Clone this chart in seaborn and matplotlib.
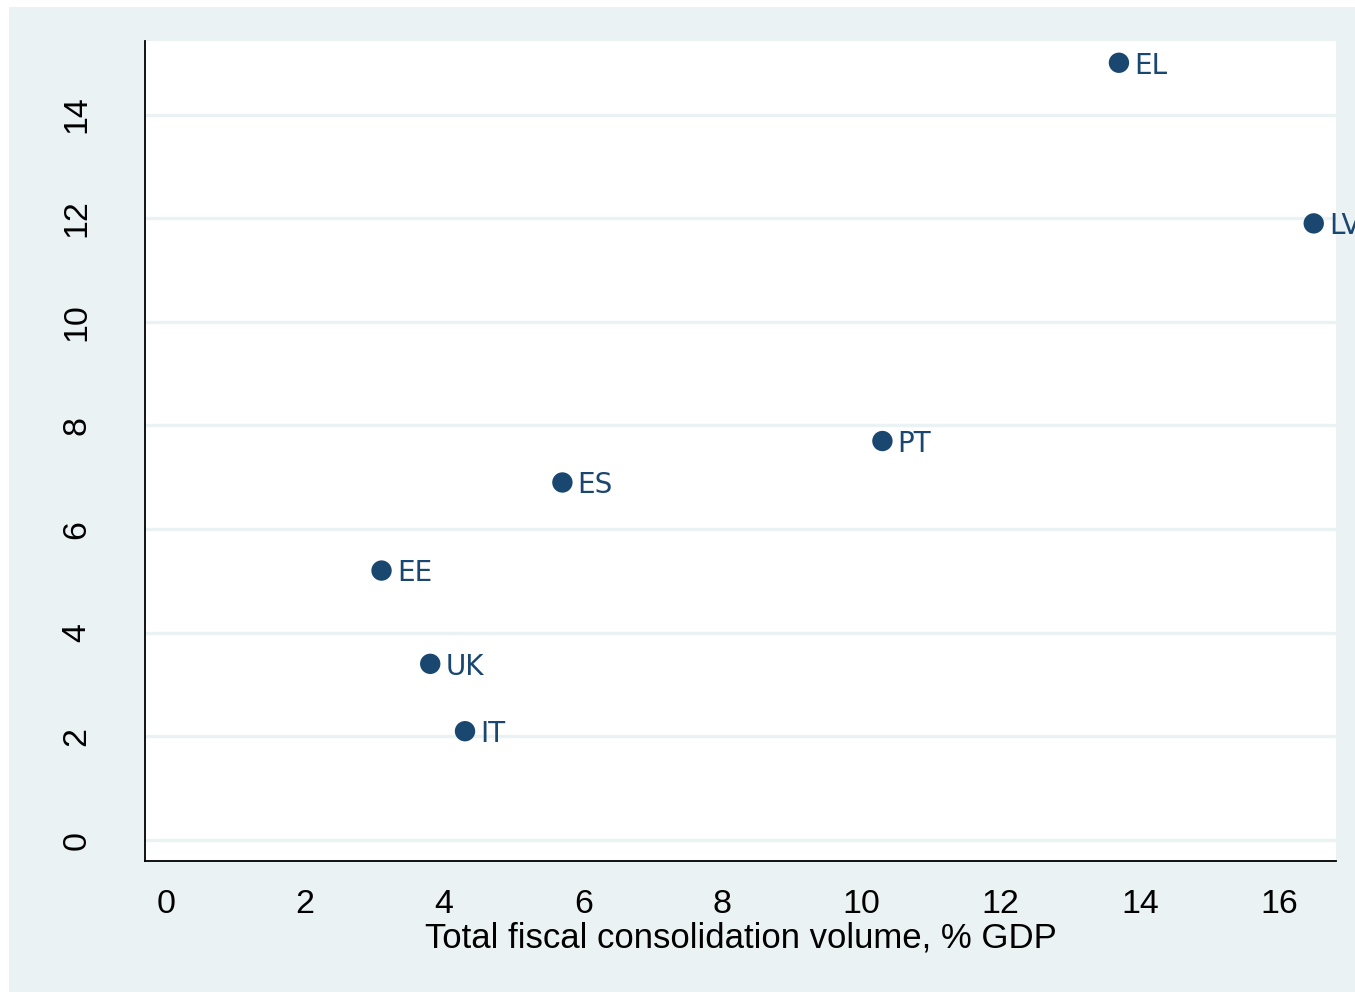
import matplotlib
matplotlib.use("Agg")
import matplotlib.pyplot as plt
import seaborn as sns
import pandas as pd
from matplotlib.patches import Rectangle

countries = ["EL", "LV", "PT", "ES", "EE", "UK", "IT"]
consolidation = [13.7, 16.5, 10.3, 5.7, 3.1, 3.8, 4.3]
outcome = [15.0, 11.9, 7.7, 6.9, 5.2, 3.4, 2.1]
x_ticks = [0, 2, 4, 6, 8, 10, 12, 14, 16]
y_ticks = [0, 2, 4, 6, 8, 10, 12, 14]
x_label = "Total fiscal consolidation volume, % GDP"

df = pd.DataFrame({"country": countries, "x": consolidation, "y": outcome})

sns.set_style("white")
plt.rcParams['font.family'] = ['Liberation Sans', 'DejaVu Sans']

navy = "#1a476f"
bg = "#eaf2f3"

fig = plt.figure(figsize=(13.55, 9.92), dpi=100)
fig.patch.set_facecolor("white")
fig.patches.append(Rectangle((9 / 1355, 0), 1 - 9 / 1355, 1 - 7 / 992,
                             transform=fig.transFigure, facecolor=bg,
                             edgecolor="none", zorder=-10))

W, H = 1355, 992
left, right, top, bottom = 145, 1336, 41, 861
ax = fig.add_axes([left / W, 1 - bottom / H, (right - left) / W, (bottom - top) / H])
ax.set_facecolor("white")

for yt in y_ticks:
    ax.axhline(yt, color=bg, lw=2.4, zorder=0)

sns.scatterplot(data=df, x="x", y="y", ax=ax, color=navy, s=215,
                edgecolor="none", linewidth=0, zorder=3, legend=False)

for c, xv, yv in zip(countries, consolidation, outcome):
    ax.annotate(c, (xv, yv), xytext=(11, -7.8), textcoords="offset points",
                ha="left", va="baseline", color=navy, fontsize=20,
                family=["DejaVu Sans"], annotation_clip=False, clip_on=False)

ax.set_xlim(-0.3, 16.82)
ax.set_ylim(-0.405, 15.42)
ax.set_xticks(x_ticks)
ax.set_yticks(y_ticks)
ax.set_xticklabels([str(t) for t in x_ticks])
ax.set_yticklabels([str(t) for t in y_ticks], rotation=90, va="center")
ax.tick_params(axis="both", direction="out", length=9, width=1.2, color="black",
               labelsize=24.5, labelcolor="black")
ax.tick_params(axis="x", pad=11.5)
ax.tick_params(axis="y", pad=29)
ax.set_xlabel(x_label, fontsize=25, labelpad=0.5, color="black")
ax.set_ylabel("")

for s in ["top", "right"]:
    ax.spines[s].set_visible(False)
for s in ["left", "bottom"]:
    ax.spines[s].set_color("black")
    ax.spines[s].set_linewidth(1.3)

fig.savefig("out.png", dpi=100, facecolor=fig.get_facecolor())
